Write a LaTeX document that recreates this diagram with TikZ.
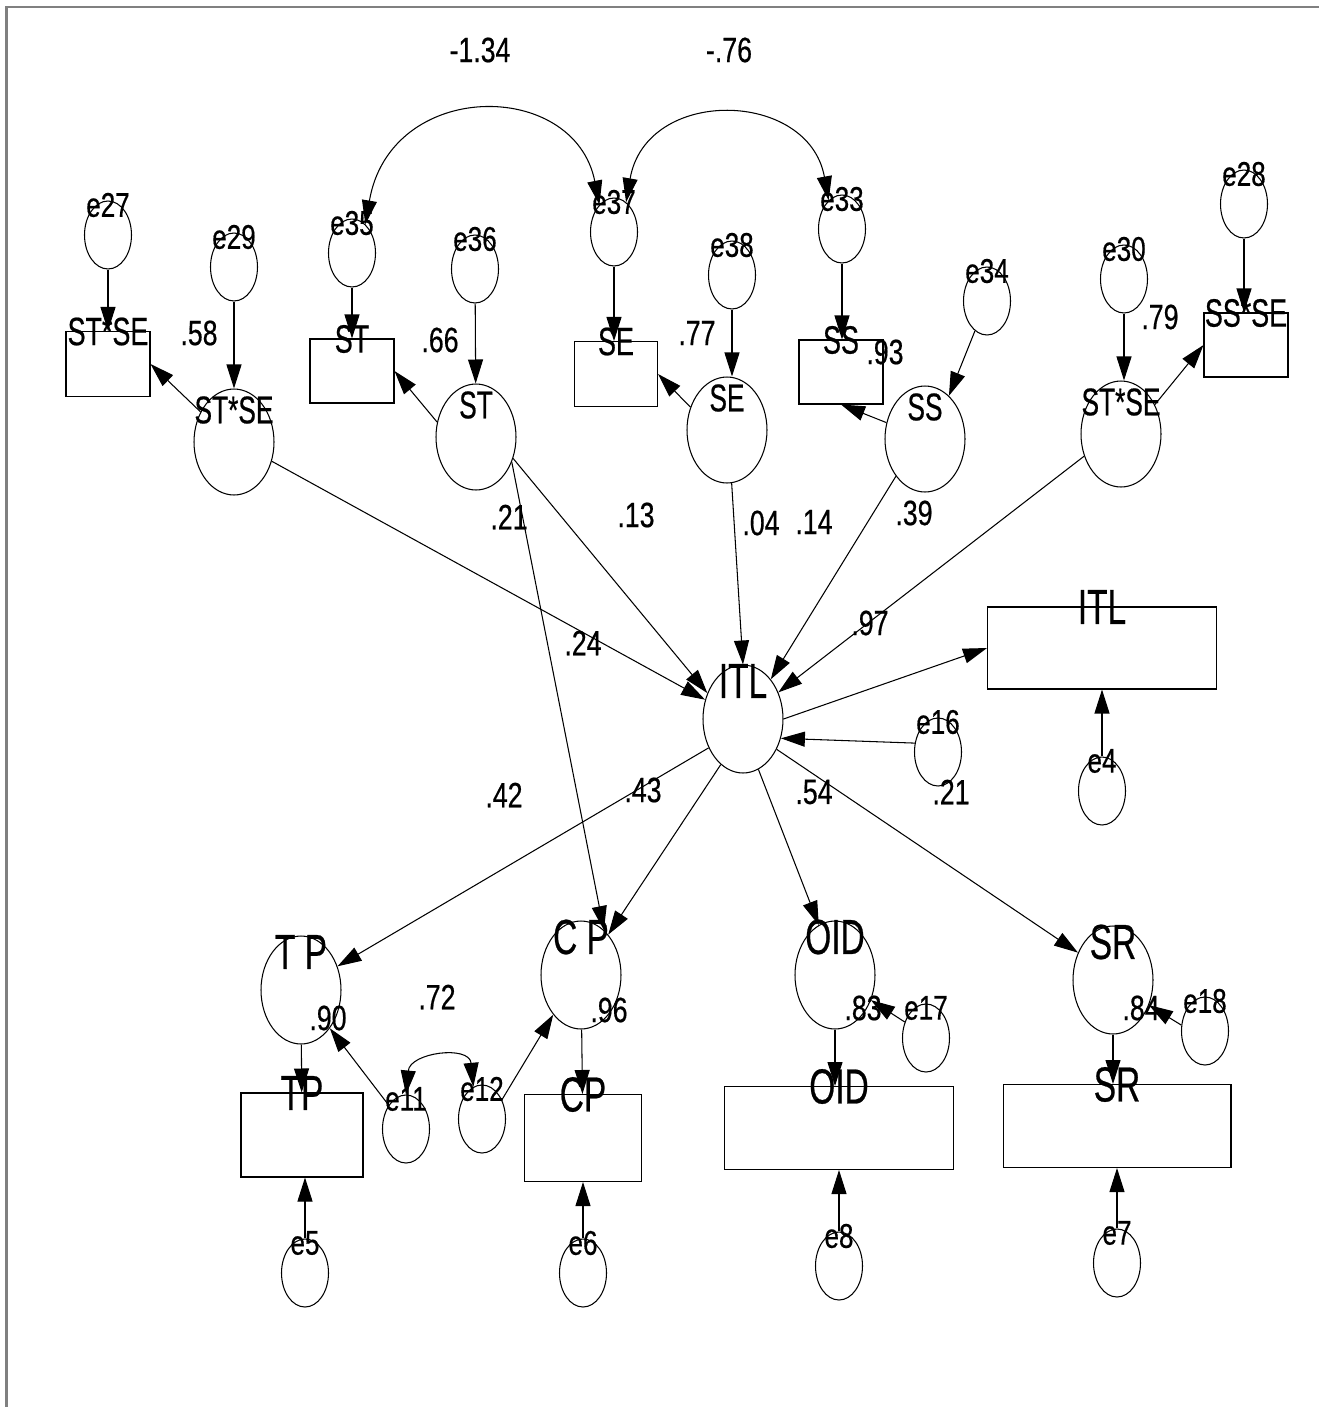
\documentclass[tikz,border=0pt]{standalone}
\usepackage{fontspec}
\setmainfont{Liberation Sans}[FakeStretch=0.68,FakeBold=0.5]
\newfontfamily\numf{Liberation Sans}[FakeStretch=0.76,FakeBold=0.5]
\usetikzlibrary{arrows.meta,shapes.geometric}
\begin{document}
\begin{tikzpicture}[x=0.02cm,y=-0.02cm, line width=0.6pt,
 every node/.style={inner sep=0pt},
 tx/.style={font=\numf\fontsize{20}{24}\selectfont},
 elbl/.style={font=\numf\fontsize{19.5}{23}\selectfont, yshift=0.6cm},
 llbl/.style={font=\fontsize{22}{25}\selectfont, yshift=0.64cm},
 bglbl/.style={font=\fontsize{28}{31}\selectfont, yshift=0.76cm},
 err/.style={draw, ellipse, minimum width=0.94cm, minimum height=1.36cm, label={[elbl]center:#1}},
 lat/.style={draw, ellipse, minimum width=1.6cm, minimum height=2.12cm, label={[llbl]center:#1}},
 biglat/.style={draw, ellipse, minimum width=1.6cm, minimum height=2.16cm, label={[bglbl]center:#1}},
 obs/.style n args={3}{draw, rectangle, minimum width=#1, minimum height=#2, label={[font=\fontsize{22.5}{25}\selectfont, yshift=#2/2]center:#3}},
 bigobs/.style n args={3}{draw, rectangle, minimum width=#1, minimum height=#2, label={[font=\fontsize{28}{31}\selectfont, yshift=#2/2]center:#3}},
 arr/.style={-{Triangle[length=0.48cm,width=0.3cm]}},
 darr/.style={{Triangle[length=0.48cm,width=0.3cm]}-{Triangle[length=0.48cm,width=0.3cm]}},
]
\useasboundingbox (0,0) rectangle (1319,1407);
\draw[gray, line width=1.2pt] (6.5,1407) -- (6.5,7) -- (1319,7);

% error variables
\node[err=e27] (e27) at (108,235) {};
\node[err=e29] (e29) at (234,267) {};
\node[err=e35] (e35) at (352,253) {};
\node[err=e36] (e36) at (475,269) {};
\node[err=e37] (e37) at (614,232) {};
\node[err=e38] (e38) at (732,275) {};
\node[err=e33] (e33) at (842,229) {};
\node[err=e34] (e34) at (987,301) {};
\node[err=e30] (e30) at (1124,279) {};
\node[err=e28] (e28) at (1244,204) {};
\node[err=e16] (e16) at (938,752) {};
\node[err=e4] (e4) at (1102,791) {};
\node[err=e11] (e11) at (406,1129) {};
\node[err=e12] (e12) at (482,1119) {};
\node[err=e17] (e17) at (926,1038) {};
\node[err=e18] (e18) at (1205,1031) {};
\node[err=e5] (e5) at (305,1273) {};
\node[err=e6] (e6) at (583,1273) {};
\node[err=e8] (e8) at (839,1266) {};
\node[err=e7] (e7) at (1117,1263) {};

% latent variables
\node[lat=ST*SE] (L1) at (234,442) {};
\node[lat=ST] (L2) at (476,437) {};
\node[lat=SE] (L3) at (727,430) {};
\node[lat=SS] (L4) at (925,439) {};
\node[lat=ST*SE] (L5) at (1121,434) {};
\node[biglat=ITL] (ITL) at (743,719) {};
\node[biglat=T P] (TP) at (301,990) {};
\node[biglat=C P] (CP) at (581,975) {};
\node[biglat=OID] (OID) at (835,975) {};
\node[biglat=SR] (SR) at (1113,980) {};

% observed variables
\node[obs={1.68cm}{1.3cm}{ST*SE}] (B1) at (108,364) {};
\node[obs={1.68cm}{1.28cm}{ST}] (B2) at (352,371) {};
\node[obs={1.66cm}{1.3cm}{SE}] (B3) at (616,374) {};
\node[obs={1.68cm}{1.28cm}{SS}] (B4) at (841,372) {};
\node[obs={1.68cm}{1.28cm}{SS*SE}] (B5) at (1246,345) {};
\node[bigobs={4.58cm}{1.64cm}{ITL}] (BITL) at (1102,648) {};
\node[bigobs={2.44cm}{1.68cm}{TP}] (BTP) at (302,1135) {};
\node[bigobs={2.34cm}{1.74cm}{CP}] (BCP) at (583,1138) {};
\node[bigobs={4.58cm}{1.66cm}{OID}] (BOID) at (839,1128) {};
\node[bigobs={4.56cm}{1.66cm}{SR}] (BSR) at (1117,1126) {};

% coefficients
\node[tx] (c1) at (480,50) {-1.34};
\node[tx] (c2) at (729,50) {-.76};
\node[tx] (c3) at (199,333) {.58};
\node[tx] (c4) at (440,340) {.66};
\node[tx] (c5) at (697,333) {.77};
\node[tx] (c6) at (885,352) {.93};
\node[tx] (c7) at (1160,317) {.79};
\node[tx] (c8) at (509,517) {.21};
\node[tx] (c9) at (636,515) {.13};
\node[tx] (c10) at (761,523) {.04};
\node[tx] (c11) at (814,522) {.14};
\node[tx] (c12) at (914,513) {.39};
\node[tx] (c13) at (870,623) {.97};
\node[tx] (c14) at (583,643) {.24};
\node[tx] (c15) at (504,795) {.42};
\node[tx] (c16) at (643,790) {.43};
\node[tx] (c17) at (814,792) {.54};
\node[tx] (c18) at (951,792) {.21};
\node[tx] (c19) at (437,997) {.72};
\node[tx] (c20) at (328,1018) {.90};
\node[tx] (c21) at (609,1010) {.96};
\node[tx] (c22) at (863,1008) {.83};
\node[tx] (c23) at (1141,1008) {.84};

% connectors
\draw[arr] (e27) -- (B1);
\draw[arr] (e29) -- (L1);
\draw[arr] (L1.138) -- (B1.east);
\draw[arr] (e35) -- (B2);
\draw[arr] (e36) -- (L2);
\draw[arr] (L2.159) -- (B2.east);
\draw[arr] (e37.south) -- (e37.south |- B3.north);
\draw[arr] (e38.south) -- (e38.south |- L3.north);
\draw[arr] (L3.148) -- (B3.east);
\draw[arr] (e33.south) -- (e33.south |- B4.north);
\draw[arr] (e34.248) -- (L4.61);
\draw[arr] (L4.157) -- (B4.south);
\draw[arr] (e30.south) -- (e30.south |- L5.north);
\draw[arr] (e28.south) -- (e28.south |- B5.north);
\draw[arr] (L5.41) -- (B5.west);
\draw[arr] (L1.333) -- (ITL.153);
\draw[arr] (L2.330) -- (ITL.144);
\draw[arr] (L2.325) -- (CP.63);
\draw[arr] (L3.275) -- (ITL.north);
\draw[arr] (L4.232) -- (ITL.55);
\draw[arr] (L5.211) -- (ITL.37);
\draw[arr] (ITL.east) -- (BITL.west);
\draw[arr] (e16.159) -- (ITL.333);
\draw[arr] (e4) -- (BITL);
\draw[arr] (ITL.220) -- (TP.33);
\draw[arr] (ITL.244) -- (CP.56);
\draw[arr] (ITL.287) -- (OID.108);
\draw[arr] (ITL.318) -- (SR.142);
\draw[arr] (TP) -- (BTP);
\draw[arr] (e11.126) -- (TP.307);
\draw[arr] (e12.44) -- (CP.235);
\draw[darr] (e11.north) .. controls +(4,-42) and +(-4,-42) .. (e12.105);
\draw[darr] (e35.65) .. controls +(25,-146) and +(-25,-126) .. (e37.118);
\draw[darr] (e37.68) .. controls +(20,-116) and +(-20,-111) .. (e33.115);
\draw[arr] (e17.143) -- (OID.325);
\draw[arr] (OID.south) -- (OID.south |- BOID.north);
\draw[arr] (e8) -- (BOID);
\draw[arr] (e18.166) -- (SR.325);
\draw[arr] (SR.south) -- (SR.south |- BSR.north);
\draw[arr] (e7) -- (BSR);
\draw[arr] (e5.north) -- (e5.north |- BTP.south);
\draw[arr] (e6) -- (BCP);
\draw[arr] (CP) -- (BCP);
\end{tikzpicture}
\end{document}
